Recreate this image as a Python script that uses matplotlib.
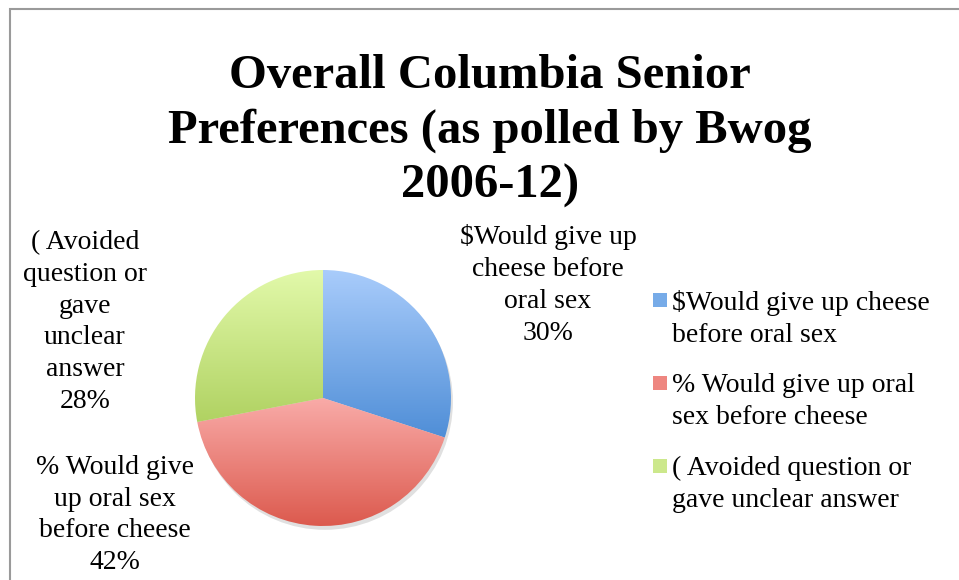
import numpy as np
import matplotlib.pyplot as plt
from matplotlib.patches import Rectangle, Circle
from matplotlib.colors import LinearSegmentedColormap

plt.rcParams['font.family'] = ['Liberation Serif', 'DejaVu Serif']

title = "Overall Columbia Senior\nPreferences (as polled by Bwog\n2006-12)"
categories = [r"\$Would give up cheese before oral sex",
              "% Would give up oral sex before cheese",
              "( Avoided question or gave unclear answer"]
shares = [30, 42, 28]
legend_labels = [r"\$Would give up cheese" + "\nbefore oral sex",
                 "% Would give up oral\nsex before cheese",
                 "( Avoided question or\ngave unclear answer"]
slice_labels = [r"\$Would give up" + "\ncheese before\noral sex",
                "% Would give\nup oral sex\nbefore cheese",
                "( Avoided\nquestion or\ngave\nunclear\nanswer"]

# top / bottom colours of each slice gradient
tops = ['#a9ccfb', '#f9aba8', '#e2f9aa']
bottoms = ['#4f8ed7', '#dc5a4e', '#b0d262']
swatch = ['#77abe8', '#ee8680', '#cce88c']

W, H = 959, 580
fig = plt.figure(figsize=(W / 100, H / 100), dpi=100)

# chart frame (only left and top edges visible in the crop)
fig.patches.append(Rectangle((9.5 / W, -0.1), 1.2, 1.1 - 8.5 / H,
                             transform=fig.transFigure, fill=False,
                             edgecolor='#9a9a9a', linewidth=1.5))

fig.text(490 / W, 1 - 131 / H, title, ha='center', va='center',
         fontsize=35, fontweight='bold', linespacing=1.3)

cx, cy, R = 323, 398, 128
half = 140
ax = fig.add_axes([(cx - half) / W, (H - cy - half) / H, 2 * half / W, 2 * half / H])
lim = half / R
ax.set_xlim(-lim, lim)
ax.set_ylim(-lim, lim)
ax.set_aspect('equal')
ax.axis('off')

ax.add_patch(Circle((0.015, -0.03), 1.0, color='#000000', alpha=0.12, lw=0, zorder=0))
wedges, _ = ax.pie(shares, startangle=90, counterclock=False, radius=1,
                   wedgeprops=dict(linewidth=0))
for w, top, bot in zip(wedges, tops, bottoms):
    w.set_facecolor('none')
    t = np.radians(np.linspace(w.theta1, w.theta2, 200))
    ys = np.concatenate([[0], np.sin(t)])
    cmap = LinearSegmentedColormap.from_list('g', [bot, top])
    grad = np.linspace(0, 1, 256).reshape(-1, 1)
    im = ax.imshow(grad, cmap=cmap, origin='lower', aspect='auto',
                   extent=[-1, 1, ys.min(), ys.max()], zorder=2)
    im.set_clip_path(w)
ax.set_xlim(-lim, lim)
ax.set_ylim(-lim, lim)

label_pos = [(548, 285), (115, 515), (85, 322)]
for (lx, ly), txt, s in zip(label_pos, slice_labels, shares):
    fig.text(lx / W, 1 - ly / H, txt + "\n%d%%" % s, ha='center', va='center',
             fontsize=20, linespacing=1.36)

leg_y = [300, 383, 466]
for y, lab, c in zip(leg_y, legend_labels, swatch):
    fig.patches.append(Rectangle((653 / W, 1 - (y + 7) / H), 14 / W, 14 / H,
                                 transform=fig.transFigure, facecolor=c, lw=0))
    fig.text(672 / W, 1 - (y - 10) / H, lab, ha='left', va='top',
             fontsize=20, linespacing=1.36)

fig.savefig('out.png', dpi=100)
